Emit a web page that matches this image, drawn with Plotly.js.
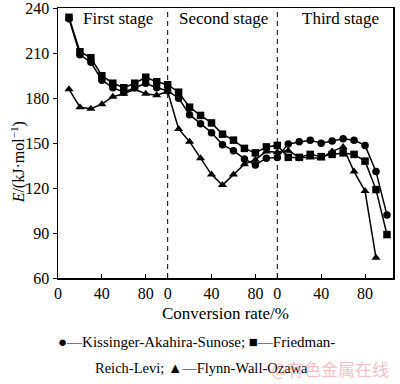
<!DOCTYPE html>
<html><head><meta charset="utf-8">
<script src="https://cdn.plot.ly/plotly-3.0.1.min.js"></script>
<style>html,body{margin:0;padding:0;background:#fff}#chart{width:400px;height:384px}</style>
</head><body><div id="chart"></div>
<script>
var conv = [10,20,30,40,50,60,70,80,90,100,110,120,130,140,150,160,170,180,190,200,210,220,230,240,250,260,270,280,290,300];
var convFWO = [10,20,30,40,50,60,70,80,90,100,110,120,130,140,150,160,170,180,190,200,210,220,230,240,250,260,270,280,290];
var kas = [233,209,204,192,187,184,187,190,187,185,180,169,163,157,149,145,139.5,135.5,140,140.5,149.5,151,152,150,151.5,153,152,148.5,131,102];
var frl = [234,211,207,195,190,187,190,194,191,189,184,174,168.5,163.5,156,152,146.5,143.5,147.5,148.5,140.5,140.5,142.5,141,142.5,143.5,142.5,138,119,89];
var fwo = [186,174,173,176,181,183,186,183,182,184.5,159.5,151,140,129,122,129,136,139,144.5,144,145,140.5,140.5,140,144.5,147.5,131,118,73.5];
var tickVals = [0,40,80,100,140,180,200,240,280];
var tickText = ['0','40','80','0','40','80','0','40','80'];
var stageNames = ['First stage','Second stage','Third stage'];
var stageCenters = [55,151,258];
var boundaries = [100,200];

var serif = 'Liberation Serif, Times New Roman, serif';
function tr(x,y,sym,name){
  return {x:x,y:y,name:name,type:'scatter',mode:'lines+markers',cliponaxis:false,
    line:{color:'#000',width:1.5},
    marker:{symbol:sym,size:sym==='triangle-up'?8:7.5,color:'#000'}};
}
var data = [tr(conv,kas,'circle','Kissinger-Akahira-Sunose'),
            tr(conv,frl,'square','Friedman-Reich-Levi'),
            tr(convFWO,fwo,'triangle-up','Flynn-Wall-Ozawa')];
var shapes = boundaries.map(function(b){return {type:'line',xref:'x',yref:'paper',x0:b,x1:b,y0:0,y1:1,line:{color:'#000',width:1,dash:'5px,4px'}};});
var ann = stageNames.map(function(s,i){return {text:s,x:stageCenters[i],xref:'x',y:0.96,yref:'paper',yanchor:'middle',xanchor:'center',showarrow:false,font:{family:serif,size:17,color:'#000'}};});
ann.push({text:'●—Kissinger-Akahira-Sunose; ■—Friedman-',xref:'paper',x:-0.005,xanchor:'left',yref:'paper',y:-0.236,yanchor:'middle',showarrow:false,font:{family:serif,size:15,color:'#000'}});
ann.push({text:'Reich-Levi; ▲—Flynn-Wall-Ozawa',xref:'paper',x:0.105,xanchor:'left',yref:'paper',y:-0.335,yanchor:'middle',showarrow:false,font:{family:serif,size:14.5,color:'#000'}});
ann.push({text:'@有色金属在线',xref:'paper',x:0.995,xanchor:'right',yref:'paper',y:-0.335,yanchor:'middle',showarrow:false,font:{family:'Noto Sans CJK SC',size:17,color:'rgba(235,140,150,0.55)'}});
ann.push({text:'<i>E</i>/(kJ·mol<sup>−1</sup>)',xref:'paper',x:-0.118,xanchor:'center',yref:'paper',y:0.43,yanchor:'middle',textangle:-90,showarrow:false,font:{family:serif,size:16,color:'#000'}});
var layout = {
  width:400,height:384,
  margin:{l:58,r:7,t:8,b:106},
  paper_bgcolor:'#fff',plot_bgcolor:'#fff',
  showlegend:false,
  font:{family:serif,color:'#000'},
  xaxis:{range:[0,305.5],tickvals:tickVals,ticktext:tickText,ticks:'inside',ticklen:4,tickcolor:'#000',
    showgrid:false,zeroline:false,showline:true,linecolor:'#000',linewidth:1.5,mirror:true,
    tickfont:{family:serif,size:16,color:'#000'},
    title:{text:'Conversion rate/%',font:{family:serif,size:17,color:'#000'},standoff:6}},
  yaxis:{range:[60,240.2],tickvals:[60,90,120,150,180,210,240],ticks:'outside',ticklen:4,tickcolor:'#000',
    ticklabeloverflow:'allow',
    showgrid:false,zeroline:false,showline:true,linecolor:'#000',linewidth:1.5,mirror:true,
    tickfont:{family:serif,size:16,color:'#000'}},
  shapes:shapes,annotations:ann
};
Plotly.newPlot('chart',data,layout,{staticPlot:true,displayModeBar:false});
</script></body></html>
